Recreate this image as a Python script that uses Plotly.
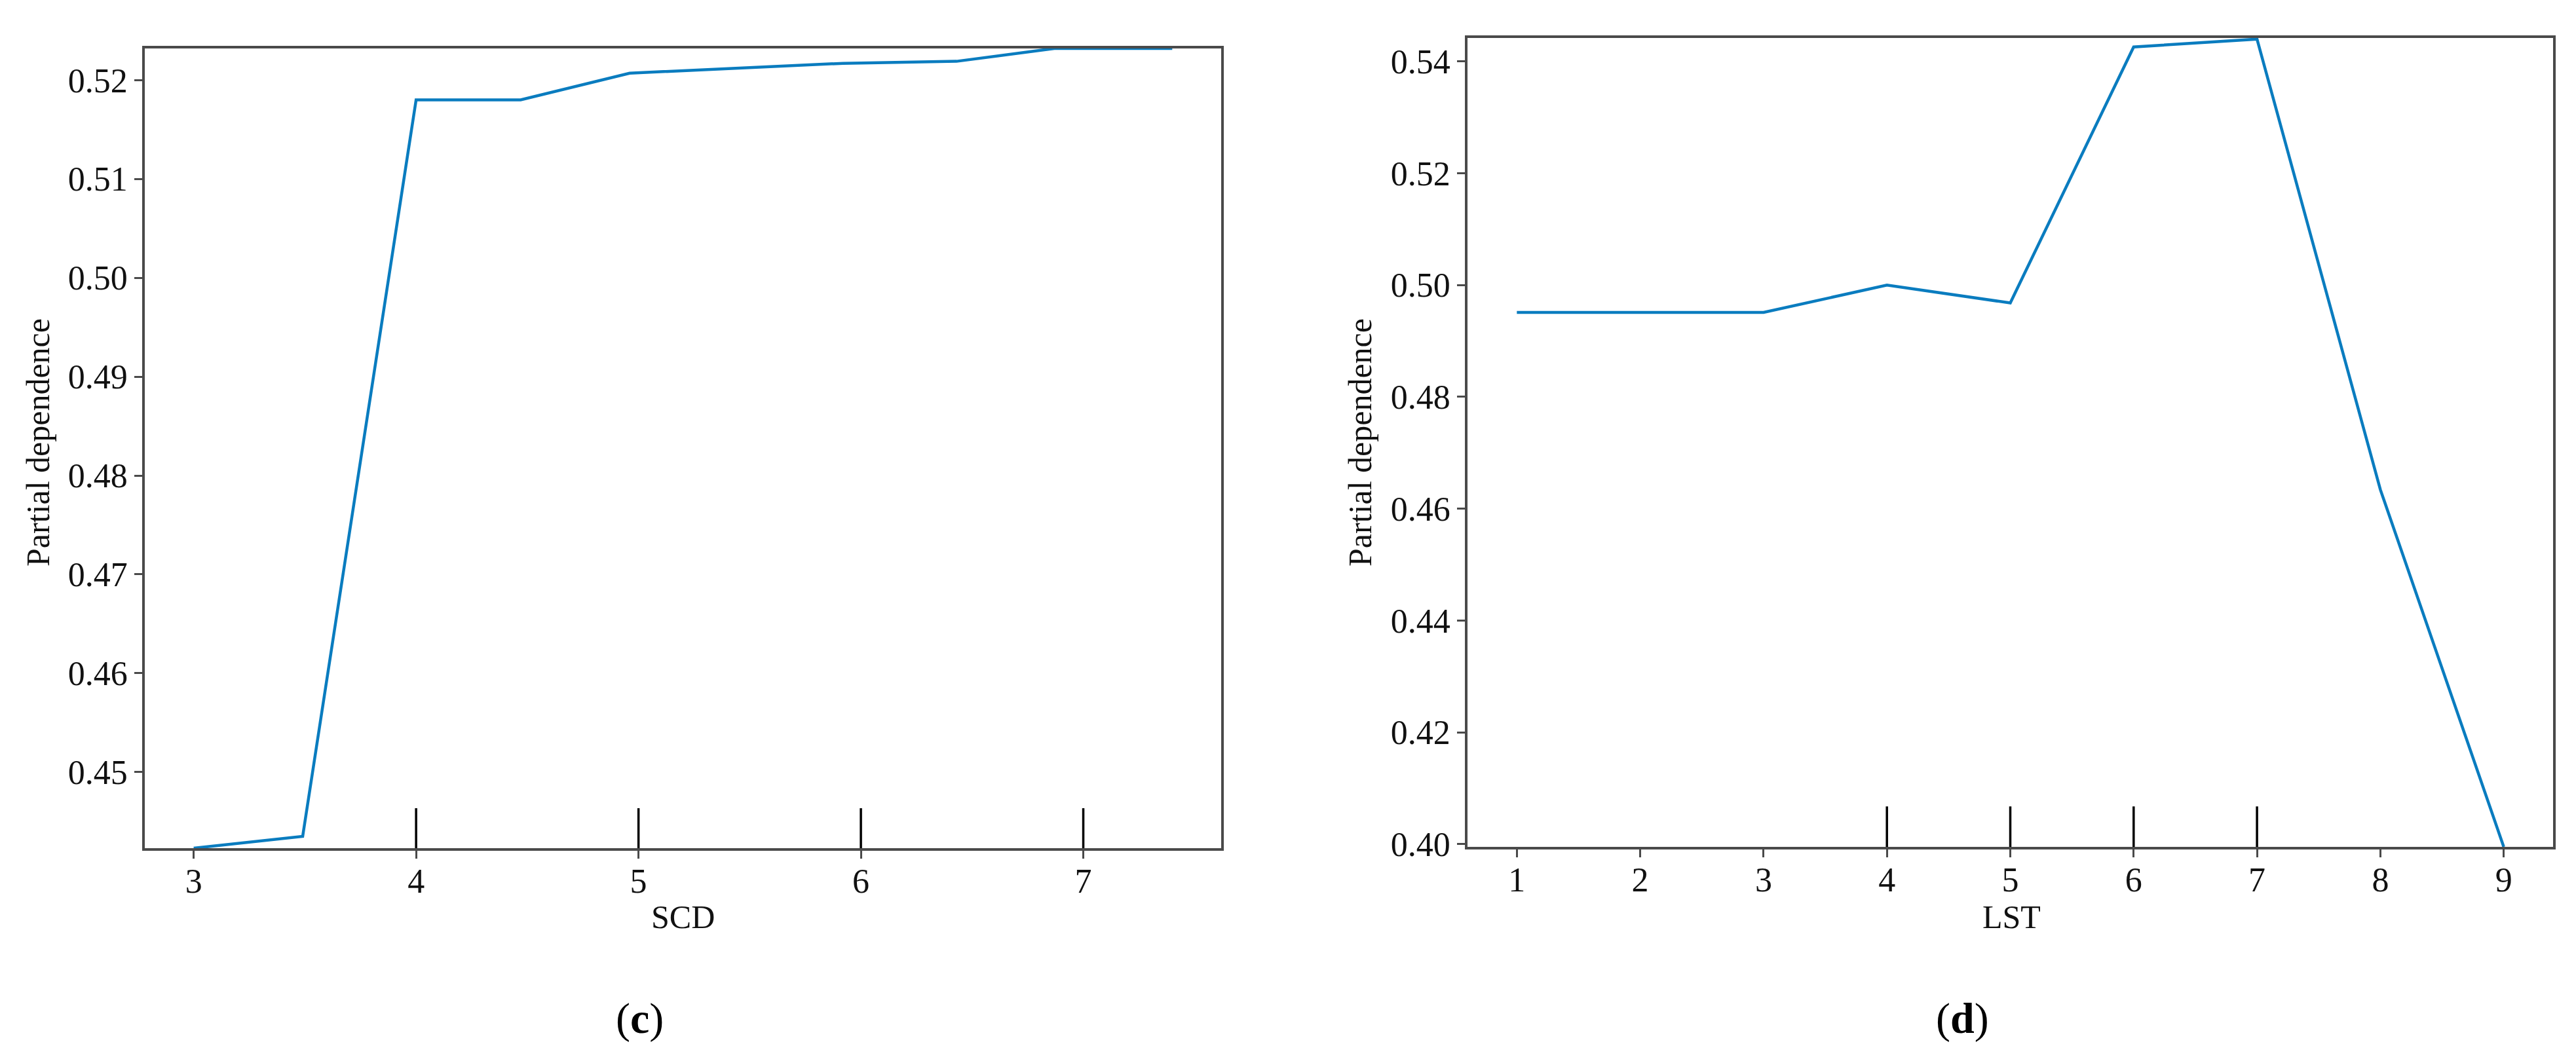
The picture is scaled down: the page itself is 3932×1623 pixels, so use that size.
import plotly.graph_objects as go

W, H = 3932, 1623

# ---- data ----
scd_x = [3.0, 3.49, 4.0, 4.47, 4.96, 5.92, 6.43, 6.87, 7.4]
scd_pd = [0.4423, 0.4435, 0.5180, 0.5180, 0.5207, 0.5217, 0.5219, 0.5232, 0.5232]
scd_deciles = [4, 5, 6, 7]

lst_x = [1, 2, 3, 4, 5, 6, 7, 8, 9]
lst_pd = [0.4951, 0.4951, 0.4951, 0.5000, 0.4968, 0.5426, 0.5440, 0.4634, 0.3995]
lst_deciles = [4, 5, 6, 7]

scd_yticks = [0.45, 0.46, 0.47, 0.48, 0.49, 0.50, 0.51, 0.52]
lst_yticks = [0.40, 0.42, 0.44, 0.46, 0.48, 0.50, 0.52, 0.54]
scd_xticks = [3, 4, 5, 6, 7]
lst_xticks = [1, 2, 3, 4, 5, 6, 7, 8, 9]

FONT = "Liberation Serif"
LINE_COLOR = "#0a7cbf"
AX_COLOR = "#4a4a4a"

fig = go.Figure()
fig.add_trace(go.Scatter(x=scd_x, y=scd_pd, mode="lines", xaxis="x", yaxis="y",
                         line=dict(color=LINE_COLOR, width=4.5), showlegend=False))
fig.add_trace(go.Scatter(x=lst_x, y=lst_pd, mode="lines", xaxis="x2", yaxis="y2",
                         line=dict(color=LINE_COLOR, width=4.5), showlegend=False))

# decile rug lines (5% of the axes height)
shapes = []
for d in scd_deciles:
    shapes.append(dict(type="line", xref="x", yref="y domain", x0=d, x1=d, y0=0, y1=0.05,
                       line=dict(color="black", width=3.5)))
for d in lst_deciles:
    shapes.append(dict(type="line", xref="x2", yref="y2 domain", x0=d, x1=d, y0=0, y1=0.05,
                       line=dict(color="black", width=3.5)))

def px_x(p):
    return p / W

def px_y(p):
    return 1 - p / H

common_axis = dict(showline=True, mirror=True, linecolor=AX_COLOR, linewidth=3.5,
                   ticks="outside", ticklen=12, tickwidth=3, tickcolor=AX_COLOR,
                   showgrid=False, zeroline=False,
                   tickfont=dict(family=FONT, size=52, color="#111111"))

fig.update_layout(
    width=W, height=H,
    paper_bgcolor="white", plot_bgcolor="white",
    margin=dict(l=0, r=0, t=0, b=0, autoexpand=False),
    xaxis=dict(domain=[px_x(213), px_x(1856)], range=[2.78, 7.62], anchor="y",
               tickvals=scd_xticks, ticktext=[str(v) for v in scd_xticks],
               ticklabelstandoff=-10, **common_axis),
    yaxis=dict(domain=[px_y(1287), px_y(66)], range=[0.4423, 0.5232], anchor="x",
               tickvals=scd_yticks, ticktext=[f"{v:.2f}" for v in scd_yticks], **common_axis),
    xaxis2=dict(domain=[px_x(2232), px_x(3889)], range=[0.6, 9.4], anchor="y2",
                tickvals=lst_xticks, ticktext=[str(v) for v in lst_xticks],
                ticklabelstandoff=-10, **common_axis),
    yaxis2=dict(domain=[px_y(1285), px_y(50)], range=[0.3995, 0.5442], anchor="x2",
                tickvals=lst_yticks, ticktext=[f"{v:.2f}" for v in lst_yticks], **common_axis),
    shapes=shapes,
    font=dict(family=FONT, color="black"),
)

ann = []
ann.append(dict(text="SCD", x=px_x(1034), y=px_y(1392), xref="paper", yref="paper",
                showarrow=False, font=dict(family=FONT, size=50, color="#111111"),
                xanchor="center", yanchor="middle"))
ann.append(dict(text="LST", x=px_x(3062), y=px_y(1392), xref="paper", yref="paper",
                showarrow=False, font=dict(family=FONT, size=50, color="#111111"),
                xanchor="center", yanchor="middle"))
ann.append(dict(text="Partial dependence", x=px_x(50), y=px_y(668), xref="paper", yref="paper",
                showarrow=False, textangle=-90, font=dict(family=FONT, size=50, color="#111111"),
                xanchor="center", yanchor="middle"))
ann.append(dict(text="Partial dependence", x=px_x(2068), y=px_y(668), xref="paper", yref="paper",
                showarrow=False, textangle=-90, font=dict(family=FONT, size=50, color="#111111"),
                xanchor="center", yanchor="middle"))
ann.append(dict(text="(<b>c</b>)", x=px_x(968), y=px_y(1547), xref="paper", yref="paper",
                showarrow=False, font=dict(family=FONT, size=66, color="black"),
                xanchor="center", yanchor="middle"))
ann.append(dict(text="(<b>d</b>)", x=px_x(2987), y=px_y(1547), xref="paper", yref="paper",
                showarrow=False, font=dict(family=FONT, size=66, color="black"),
                xanchor="center", yanchor="middle"))
fig.update_layout(annotations=ann)

fig.write_html("out.html")
